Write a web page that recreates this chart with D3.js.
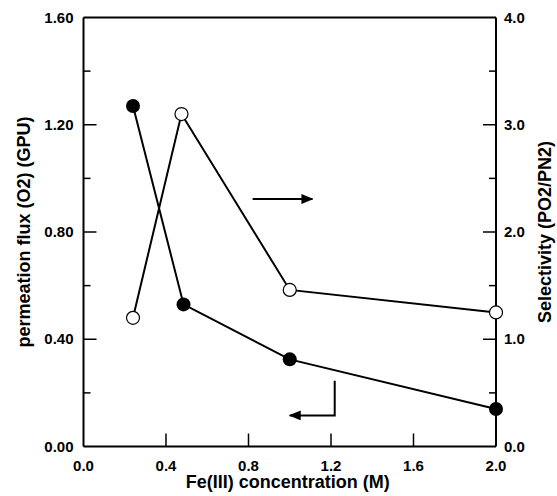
<!DOCTYPE html>
<html><head><meta charset="utf-8">
<script src="https://cdn.jsdelivr.net/npm/d3@7"></script>
<style>body{margin:0;background:#fff}svg{display:block}text{font-family:"Liberation Sans",Arial,sans-serif;font-weight:bold;fill:#000}</style>
</head><body>
<script>
const concentration = [0.24, 0.485, 1.0, 2.0];
const fluxO2 = [1.27, 0.53, 0.325, 0.14];
const selConcentration = [0.24, 0.475, 1.0, 2.0];
const selectivity = [1.2, 3.1, 1.46, 1.25];
const xTicks = [0.0, 0.4, 0.8, 1.2, 1.6, 2.0];
const leftTicks = [0.0, 0.4, 0.8, 1.2, 1.6];
const leftMinor = [0.2, 0.6, 1.0, 1.4];
const rightTicks = [0, 1, 2, 3, 4];
const rightMinor = [0.5, 1.5, 2.5, 3.5];
// annotation arrows in data units (x, left-axis value)
const arrowRight = [[0.82, 0.923], [1.11, 0.923]];
const arrowLeft = [[1.218, 0.245], [1.218, 0.116], [1.0, 0.116]];

const W = 557, H = 496;
const svg = d3.select("body").append("svg").attr("width", W).attr("height", H);
const x = d3.scaleLinear().domain([0, 2]).range([83.5, 496]);
const yL = d3.scaleLinear().domain([0, 1.6]).range([446.5, 17.5]);
const yR = d3.scaleLinear().domain([0, 4]).range([446.5, 17.5]);

const g = svg.append("g");
// frame
g.append("line").attr("x1", x(0)).attr("x2", x(2)).attr("y1", yL(0)).attr("y2", yL(0)).attr("stroke", "#000").attr("stroke-width", 2);
g.append("line").attr("x1", x(0)).attr("x2", x(2)).attr("y1", yL(1.6)).attr("y2", yL(1.6)).attr("stroke", "#000").attr("stroke-width", 2);
g.append("line").attr("x1", x(0)).attr("x2", x(0)).attr("y1", yL(0)).attr("y2", yL(1.6)).attr("stroke", "#000").attr("stroke-width", 2);
g.append("line").attr("x1", x(2)).attr("x2", x(2)).attr("y1", yL(0)).attr("y2", yL(1.6)).attr("stroke", "#000").attr("stroke-width", 2);

// x ticks
g.selectAll(".xt").data(xTicks.filter(d => d > 0 && d < 2)).enter().append("line")
  .attr("x1", d => x(d)).attr("x2", d => x(d)).attr("y1", yL(0)).attr("y2", yL(0) - 13)
  .attr("stroke", "#000").attr("stroke-width", 1.5);
g.selectAll(".xl").data(xTicks).enter().append("text")
  .attr("x", d => x(d)).attr("y", yL(0) + 24).attr("text-anchor", "middle").attr("font-size", 15)
  .text(d => d.toFixed(1));
// left ticks
g.selectAll(".lt").data(leftTicks.filter(d => d > 0 && d < 1.6)).enter().append("line")
  .attr("x1", x(0)).attr("x2", x(0) + 13).attr("y1", d => yL(d)).attr("y2", d => yL(d))
  .attr("stroke", "#000").attr("stroke-width", 1.5);
g.selectAll(".lm").data(leftMinor).enter().append("line")
  .attr("x1", x(0)).attr("x2", x(0) + 7).attr("y1", d => yL(d)).attr("y2", d => yL(d))
  .attr("stroke", "#000").attr("stroke-width", 1.5);
g.selectAll(".ll").data(leftTicks).enter().append("text")
  .attr("x", x(0) - 10).attr("y", d => yL(d) + 5).attr("text-anchor", "end").attr("font-size", 15)
  .text(d => d.toFixed(2));
// right ticks
g.selectAll(".rt").data(rightTicks.filter(d => d > 0 && d < 4)).enter().append("line")
  .attr("x1", x(2)).attr("x2", x(2) - 13).attr("y1", d => yR(d)).attr("y2", d => yR(d))
  .attr("stroke", "#000").attr("stroke-width", 1.5);
g.selectAll(".rm").data(rightMinor).enter().append("line")
  .attr("x1", x(2)).attr("x2", x(2) - 7).attr("y1", d => yR(d)).attr("y2", d => yR(d))
  .attr("stroke", "#000").attr("stroke-width", 1.5);
g.selectAll(".rl").data(rightTicks).enter().append("text")
  .attr("x", x(2) + 8).attr("y", d => yR(d) + 5).attr("text-anchor", "start").attr("font-size", 15)
  .text(d => d.toFixed(1));

// axis titles
g.append("text").attr("x", (x(0) + x(2)) / 2 - 2).attr("y", 488).attr("text-anchor", "middle").attr("font-size", 18)
  .text("Fe(III) concentration (M)");
g.append("text").attr("transform", `translate(30,${yL(0.8)}) rotate(-90)`).attr("text-anchor", "middle").attr("font-size", 18)
  .text("permeation flux (O2) (GPU)");
g.append("text").attr("transform", `translate(551,${yR(2)}) rotate(-90)`).attr("text-anchor", "middle").attr("font-size", 18)
  .text("Selectivity (PO2/PN2)");

// series lines
const fluxData = concentration.map((c, i) => [c, fluxO2[i]]);
const selData = selConcentration.map((c, i) => [c, selectivity[i]]);
g.append("path").datum(selData).attr("fill", "none").attr("stroke", "#000").attr("stroke-width", 2)
  .attr("d", d3.line().x(d => x(d[0])).y(d => yR(d[1])));
g.append("path").datum(fluxData).attr("fill", "none").attr("stroke", "#000").attr("stroke-width", 2)
  .attr("d", d3.line().x(d => x(d[0])).y(d => yL(d[1])));
g.selectAll(".sp").data(selData).enter().append("circle")
  .attr("cx", d => x(d[0])).attr("cy", d => yR(d[1])).attr("r", 6.5)
  .attr("fill", "#fff").attr("stroke", "#000").attr("stroke-width", 1.2);
g.selectAll(".fp").data(fluxData).enter().append("circle")
  .attr("cx", d => x(d[0])).attr("cy", d => yL(d[1])).attr("r", 7).attr("fill", "#000");

// arrows
const defs = svg.append("defs");
defs.append("marker").attr("id", "ah").attr("viewBox", "0 0 12 10").attr("refX", 11).attr("refY", 5)
  .attr("markerWidth", 12).attr("markerHeight", 10).attr("markerUnits", "userSpaceOnUse").attr("orient", "auto")
  .append("path").attr("d", "M0,0 L12,5 L0,10 Z").attr("fill", "#000");
const al = d3.line().x(d => x(d[0])).y(d => yL(d[1]));
g.append("path").datum(arrowRight).attr("d", al).attr("fill", "none").attr("stroke", "#000").attr("stroke-width", 2).attr("marker-end", "url(#ah)");
g.append("path").datum(arrowLeft).attr("d", al).attr("fill", "none").attr("stroke", "#000").attr("stroke-width", 2).attr("marker-end", "url(#ah)");
</script>
</body></html>
